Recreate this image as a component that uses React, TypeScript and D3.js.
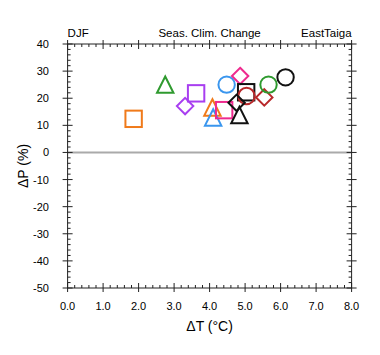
import React from "react";
import * as d3 from "d3";

const dT = [1.86, 2.75, 3.62, 3.31, 4.08, 4.10, 4.41, 4.48, 4.86, 5.03, 5.04, 4.76, 4.84, 5.54, 5.66, 6.14];
const dP = [12.4, 25.0, 21.8, 17.1, 16.6, 12.9, 15.6, 25.0, 28.2, 22.2, 20.8, 18.3, 13.8, 20.3, 25.0, 27.7];
const shapes = ["square", "triangle", "square", "diamond", "triangle", "triangle", "square", "circle", "diamond", "square", "circle", "diamond", "triangle", "diamond", "circle", "circle"];
const colors = ["#f07a1a", "#2f9a2f", "#a83ef0", "#a83ef0", "#f07a1a", "#3a96ee", "#ee2a8e", "#3a96ee", "#ee2a8e", "#111111", "#b8282a", "#111111", "#111111", "#b8282a", "#2f9a2f", "#111111"];

const xMajor = [0, 1, 2, 3, 4, 5, 6, 7, 8];
const yMajor = [40, 30, 20, 10, 0, -10, -20, -30, -40, -50];

export default function App() {
  const L = 67.6, R = 351.6, T = 44, B = 288;
  const x = d3.scaleLinear().domain([0, 8]).range([L, R]);
  const y = d3.scaleLinear().domain([-50, 40]).range([B, T]);
  const xMinor = d3.range(0, 8.001, 0.2).filter((v) => Math.abs(v - Math.round(v)) > 1e-6);
  const yMinor = d3.range(-50, 40.001, 2).filter((v) => Math.abs(v % 10) > 1e-6);
  const font = "'Liberation Sans', Arial, Helvetica, sans-serif";
  const ax = "#222";
  const s = 8.2;

  const marker = (i: number) => {
    const cx = x(dT[i]);
    const cy = y(dP[i]);
    const c = colors[i];
    const common = { fill: "none", stroke: c, strokeWidth: 2 };
    switch (shapes[i]) {
      case "square":
        return <rect key={i} x={cx - s} y={cy - s} width={2 * s} height={2 * s} {...common} />;
      case "circle":
        return <circle key={i} cx={cx} cy={cy} r={s} {...common} />;
      case "diamond":
        return <path key={i} d={`M${cx},${cy - s}L${cx + s},${cy}L${cx},${cy + s}L${cx - s},${cy}Z`} {...common} />;
      default:
        return <path key={i} d={`M${cx},${cy - s}L${cx + s},${cy + s}L${cx - s},${cy + s}Z`} {...common} strokeLinejoin="miter" />;
    }
  };

  return (
    <svg width={380} height={355} style={{ position: "absolute", left: 0, top: 0, background: "#fff" }}>
      <line x1={L} x2={R} y1={y(0)} y2={y(0)} stroke="#aaa" strokeWidth={2} />
      {dT.map((_, i) => marker(i))}
      <rect x={L} y={T} width={R - L} height={B - T} fill="none" stroke={ax} strokeWidth={1} />
      {xMajor.map((v) => (
        <g key={"xm" + v}>
          <line x1={x(v)} x2={x(v)} y1={B + 4} y2={B - 5} stroke={ax} />
          <line x1={x(v)} x2={x(v)} y1={T - 4} y2={T + 5} stroke={ax} />
          <text x={x(v)} y={310} textAnchor="middle" fontFamily={font} fontSize={11} fill="#000">{v.toFixed(1)}</text>
        </g>
      ))}
      {xMinor.map((v, i) => (
        <g key={"xn" + i}>
          <line x1={x(v)} x2={x(v)} y1={B} y2={B - 3} stroke={ax} />
          <line x1={x(v)} x2={x(v)} y1={T} y2={T + 3} stroke={ax} />
        </g>
      ))}
      {yMajor.map((v) => (
        <g key={"ym" + v}>
          <line x1={L - 5} x2={L + 5} y1={y(v)} y2={y(v)} stroke={ax} />
          <line x1={R - 5} x2={R + 5} y1={y(v)} y2={y(v)} stroke={ax} />
          <text x={49} y={y(v) + 4} textAnchor="end" fontFamily={font} fontSize={11} fill="#000">{v}</text>
        </g>
      ))}
      {yMinor.map((v, i) => (
        <g key={"yn" + i}>
          <line x1={L} x2={L + 3} y1={y(v)} y2={y(v)} stroke={ax} />
          <line x1={R - 3} x2={R} y1={y(v)} y2={y(v)} stroke={ax} />
        </g>
      ))}
      <text x={L} y={36.7} fontFamily={font} fontSize={11.5} fill="#000">DJF</text>
      <text x={(L + R) / 2} y={36.7} textAnchor="middle" fontFamily={font} fontSize={11.5} fill="#000">Seas. Clim. Change</text>
      <text x={R} y={36.7} textAnchor="end" fontFamily={font} fontSize={11.5} fill="#000">EastTaiga</text>
      <text x={(L + R) / 2} y={331} textAnchor="middle" fontFamily={font} fontSize={14} fill="#000">ΔT (°C)</text>
      <text transform={`translate(28,${(T + B) / 2}) rotate(-90)`} textAnchor="middle" fontFamily={font} fontSize={14} fill="#000">ΔP (%)</text>
    </svg>
  );
}
